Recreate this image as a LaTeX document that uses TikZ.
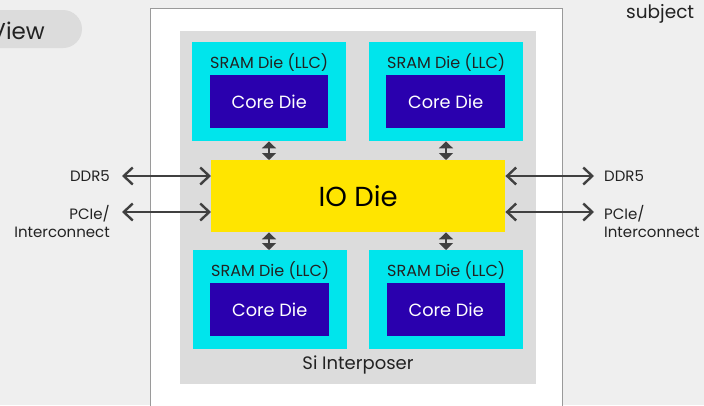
\documentclass[tikz,border=0pt]{standalone}
\usepackage{fontspec}
\setmainfont{Poppins}
\usetikzlibrary{arrows.meta}
\definecolor{pagebg}{HTML}{EFEFEF}
\definecolor{pillgray}{HTML}{DCDCDC}
\definecolor{interposer}{HTML}{DCDCDC}
\definecolor{sram}{HTML}{00E5EC}
\definecolor{core}{HTML}{2A00AE}
\definecolor{iodie}{HTML}{FFE500}
\definecolor{arrowc}{HTML}{404040}
\definecolor{textc}{HTML}{222222}
\definecolor{frame}{HTML}{9A9A9A}
\tikzset{
  box/.style={draw=none, inner sep=0pt, anchor=north west},
  lbl/.style={text=textc, font=\fontsize{15}{18}\selectfont, inner sep=0pt},
  sramlbl/.style={text=textc, font=\fontsize{16}{18}\selectfont, inner sep=0pt},
  hlink/.style={arrowc, line width=2.6pt, {Straight Barb[length=9pt,width=17pt,line width=2.4pt]}-{Straight Barb[length=9pt,width=17pt,line width=2.4pt]}},
  vlink/.style={arrowc, line width=2.6pt, {Triangle[length=7pt,width=14pt]}-{Triangle[length=7pt,width=14pt]}},
}
\begin{document}
\begin{tikzpicture}[x=1pt,y=-1pt]
% canvas
\fill[pagebg] (0,0) rectangle (704,405);
\useasboundingbox (0,0) rectangle (704,405);
% title pill, cut at the left edge
\fill[pillgray, rounded corners=19pt] (-60,10) rectangle (82,48);
\node[anchor=base east, text=textc, font=\fontsize{23}{27}\selectfont, inner sep=0pt] (title) at (45,39) {View};
\node[anchor=base west, text=textc, font=\fontsize{18.5}{22}\selectfont, inner sep=0pt] (subj) at (626,18) {subject};
% package substrate
\filldraw[fill=white, draw=frame, line width=1pt] (150,8) rectangle (562,420);
% interposer
\node[box, fill=interposer, minimum width=356pt, minimum height=353pt] (ip) at (180,31) {};
\node[text=textc, font=\fontsize{18}{21}\selectfont, inner sep=0pt] (iplbl) at (358,365) {Si Interposer};
% SRAM dies
\node[box, fill=sram, minimum width=154pt, minimum height=99pt] (s1) at (192,42) {};
\node[box, fill=sram, minimum width=154pt, minimum height=99pt] (s2) at (369,42) {};
\node[box, fill=sram, minimum width=154pt, minimum height=99pt] (s3) at (193,250) {};
\node[box, fill=sram, minimum width=154pt, minimum height=99pt] (s4) at (369,250) {};
\foreach \s in {s1,s2,s3,s4}
  \node[sramlbl] (\s t) at ([yshift=-21pt]\s.north) {SRAM Die (LLC)};
% core dies
\node[box, fill=core, minimum width=118pt, minimum height=53pt] (c1) at (210,75) {};
\node[box, fill=core, minimum width=119pt, minimum height=53pt] (c2) at (386,75) {};
\node[box, fill=core, minimum width=119pt, minimum height=53pt] (c3) at (210,283) {};
\node[box, fill=core, minimum width=118pt, minimum height=53pt] (c4) at (387,283) {};
\foreach \c in {c1,c2,c3,c4}
  \node[text=white, font=\fontsize{17.7}{21}\selectfont, inner sep=0pt] (\c t) at (\c.center) {Core Die};
% IO die
\node[box, fill=iodie, minimum width=294pt, minimum height=72pt] (io) at (211,160) {};
\node[text=black, font=\fontsize{27.5}{32}\selectfont, inner sep=0pt] (iot) at (io.center) {IO Die};
% die-to-die links
\draw[vlink] (s1.south -| 269,0) -- (io.north -| 269,0);
\draw[vlink] (s2.south -| 446,0) -- (io.north -| 446,0);
\draw[vlink] (io.south -| 269,0) -- (s3.north -| 269,0);
\draw[vlink] (io.south -| 446,0) -- (s4.north -| 446,0);
% off-package links
\coordinate (ddrL) at (122,176);
\coordinate (pcieL) at (122,212);
\coordinate (ddrR) at (594,176);
\coordinate (pcieR) at (594,212);
\draw[hlink] (ddrL) -- (io.west |- ddrL);
\draw[hlink] (pcieL) -- (io.west |- pcieL);
\draw[hlink] (io.east |- ddrR) -- (ddrR);
\draw[hlink] (io.east |- pcieR) -- (pcieR);
\node[lbl, anchor=east] (ddrLt) at (110,176) {DDR5};
\node[lbl, anchor=east, align=right] (pcieLt) at (110,221) {PCIe/\\Interconnect};
\node[lbl, anchor=west] (ddrRt) at (604,176) {DDR5};
\node[lbl, anchor=west, align=left] (pcieRt) at (604,221) {PCIe/\\Interconnect};
\end{tikzpicture}
\end{document}
